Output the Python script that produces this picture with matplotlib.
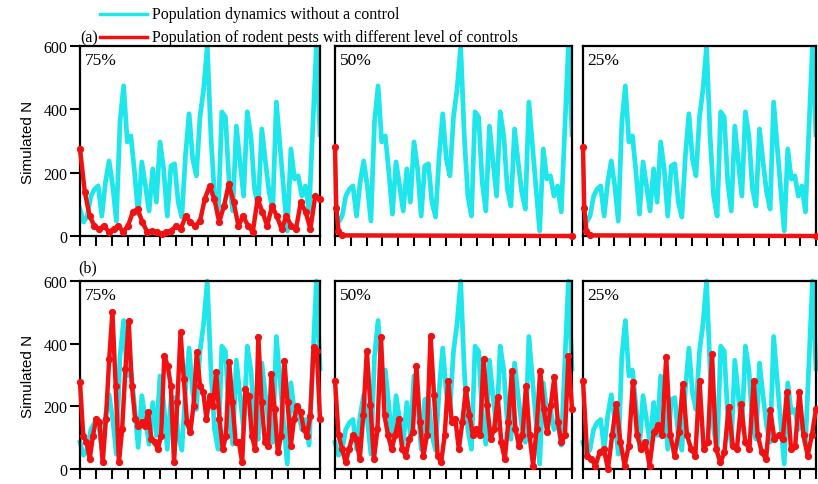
import numpy as np
import matplotlib
matplotlib.use("Agg")
import matplotlib.pyplot as plt
from matplotlib.lines import Line2D

plt.rcParams.update({
    "font.family": "Liberation Serif",
    "font.size": 11.5,
    "axes.linewidth": 1.6,
})
CYAN = "#1EE6EA"
RED = "#F01212"

YEARS = 15  # span of each panel (one tick per year)

# population without control (same in every panel)
no_control = [85, 44, 63, 126, 148, 158, 63, 170, 237, 158, 47, 360, 474, 297, 316,
              202, 69, 234, 158, 79, 212, 107, 297, 212, 63, 221, 228, 107, 60, 253,
              386, 243, 190, 376, 464, 600, 316, 126, 63, 392, 376, 170, 79, 347, 234,
              126, 392, 316, 148, 95, 338, 234, 139, 85, 423, 284, 148, 16, 275, 180,
              190, 126, 158, 76, 338, 600, 320]

# (a) controls
a_75 = [275, 139, 63, 32, 22, 32, 13, 22, 32, 13, 32, 76, 85, 44, 13, 16, 13, 6, 13,
        16, 32, 22, 63, 44, 32, 47, 117, 158, 117, 44, 95, 164, 107, 32, 63, 32, 13,
        117, 76, 32, 95, 63, 22, 63, 32, 22, 107, 76, 22, 126, 117]
a_low_t = [0, 0.08, 0.22, 0.45, 15]
a_low_v = [280, 90, 15, 2, 0]

# (b) controls
b_75 = [277, 106, 85, 32, 106, 160, 149, 21, 160, 351, 500, 266, 21, 128, 319, 473,
        266, 160, 138, 149, 138, 181, 96, 85, 64, 106, 362, 330, 266, 21, 213, 436,
        287, 149, 117, 202, 372, 266, 245, 160, 234, 202, 309, 160, 64, 106, 340, 213,
        85, 85, 21, 255, 234, 106, 64, 420, 213, 85, 74, 303, 191, 53, 106, 346, 213,
        74, 160, 202, 181, 128, 106, 170, 388, 378, 160]
b_50 = [282, 107, 64, 21, 64, 107, 96, 32, 171, 378, 203, 32, 128, 421, 171, 107, 64,
        107, 160, 64, 43, 96, 117, 330, 149, 43, 107, 426, 235, 43, 21, 107, 282, 149,
        160, 64, 149, 256, 171, 107, 128, 107, 352, 203, 96, 128, 229, 85, 32, 149, 314,
        128, 75, 107, 266, 107, 11, 128, 314, 192, 117, 203, 293, 149, 85, 107, 362, 192]
b_25 = [282, 43, 32, 11, 53, 64, 0, 107, 208, 85, 11, 75, 277, 107, 64, 85, 11, 117,
        139, 107, 357, 107, 43, 117, 272, 107, 64, 43, 282, 64, 85, 368, 64, 21, 53, 197,
        75, 64, 208, 85, 64, 282, 107, 53, 32, 187, 96, 107, 96, 245, 64, 75, 245, 107,
        43, 107, 192]

levels = ["75%", "50%", "25%"]
yticks = [0, 200, 400, 600]

fig = plt.figure(figsize=(8.18, 4.85), dpi=100)
W, H = 818, 485
cols = [(80, 320), (335, 572), (583, 816)]
rows = [(47, 237), (282, 470)]


def t_of(vals):
    return np.linspace(0, YEARS, len(vals))


red_sets = [
    [(t_of(a_75), a_75), (a_low_t, a_low_v), (a_low_t, a_low_v)],
    [(t_of(b_75), b_75), (t_of(b_50), b_50), (t_of(b_25), b_25)],
]

for r, (top, bot) in enumerate(rows):
    for c, (left, right) in enumerate(cols):
        ax = fig.add_axes([left / W, 1 - bot / H, (right - left) / W, (bot - top) / H])
        ax.plot(t_of(no_control), no_control, color=CYAN, lw=3.4, zorder=2,
                clip_on=(r == 0))
        tr, vr = red_sets[r][c]
        ax.plot(tr, vr, color=RED, lw=3.2, marker="o", ms=4.2, zorder=3, clip_on=False)
        ax.set_xlim(0, YEARS)
        ax.set_ylim(0, 600)
        ax.set_xticks(np.arange(0, YEARS + 1))
        ax.set_xticklabels([])
        ax.tick_params(axis="x", direction="out", length=7, width=1.5)
        if c == 0:
            ax.set_yticks(yticks)
            ax.tick_params(axis="y", direction="out", length=7, width=1.5,
                           labelsize=11.5, pad=2)
            ax.set_ylabel("Simulated N", family="Liberation Sans", fontsize=11, labelpad=6)
        else:
            ax.set_yticks([])
        ax.text(0.02, 0.97, levels[c], transform=ax.transAxes, fontsize=12.5,
                va="top", ha="left")

fig.text(80 / W, 1 - 38 / H, "(a)", fontsize=11.5, va="center", ha="left")
fig.text(78 / W, 1 - 268 / H, "(b)", fontsize=11.5, va="center", ha="left")

# legend drawn at top
for y, col, label in [(15, CYAN, "Population dynamics without a control"),
                      (38, RED, "Population of rodent pests with different level of controls")]:
    fig.add_artist(Line2D([100 / W, 147 / W], [1 - y / H, 1 - y / H], color=col, lw=2.5,
                          transform=fig.transFigure))
    fig.text(152 / W, 1 - y / H, label, fontsize=11.5, va="center", ha="left")

fig.savefig("out.png", dpi=100)
